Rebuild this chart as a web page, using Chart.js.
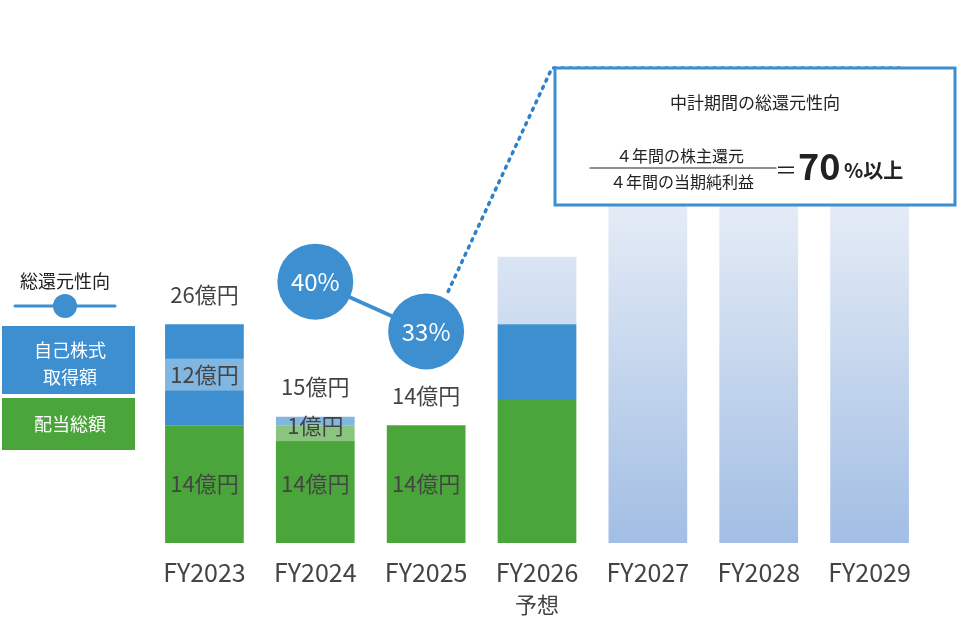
<!DOCTYPE html>
<html><head><meta charset="utf-8">
<script src="https://cdn.jsdelivr.net/npm/chart.js@4"></script>
<style>body{margin:0;background:#fff;overflow:hidden}canvas{display:block}</style>
</head><body><canvas id="c" width="963" height="627" style="width:963px;height:627px"></canvas>
<script>
const years = ["FY2023","FY2024","FY2025","FY2026","FY2027","FY2028","FY2029"];
const subLabels = ["","","","予想","","",""];
const dividend = [14,14,14,17,0,0,0];
const buyback = [12,1,0,9,0,0,0];
const planned = [0,0,0,8,43,43,43];
const ratio = [null,40,33,null,null,null,null];
const ratioText = ["","40%","33%","","","",""];
const totalText = ["26億円","15億円","14億円","","","",""];
const buybackText = ["12億円","1億円","","","","",""];
const dividendText = ["14億円","14億円","14億円","","","",""];

const FONT = "'Noto Sans CJK JP', 'Noto Sans', sans-serif";
const BLUE = "#3d8fd0", GREEN = "#4aa63a";

const grad = (ctx)=>{
  const ch = ctx.chart, a = ch.chartArea;
  if(!a) return "#c5d6ee";
  const g = ch.ctx.createLinearGradient(0, a.top + 150, 0, a.bottom);
  g.addColorStop(0, "#e8eef7");
  g.addColorStop(1, "#a2bee4");
  return g;
};

const drawer = {
  id: "drawer",
  afterDatasetsDraw(chart){
    const c = chart.ctx, x = chart.scales.x, y = chart.scales.y, y2 = chart.scales.y2;
    c.save();
    c.textAlign = "center"; c.textBaseline = "middle";
    c.fillStyle = "#444"; c.font = "25px " + FONT;
    years.forEach((l,i)=>{
      c.fillText(l, x.getPixelForValue(i), 572);
      if(subLabels[i]){ c.font = "22px " + FONT; c.fillText(subLabels[i], x.getPixelForValue(i), 605); c.font = "25px " + FONT; }
    });
    c.font = "22px " + FONT;
    years.forEach((l,i)=>{
      const px = x.getPixelForValue(i);
      const tot = dividend[i] + buyback[i];
      if(totalText[i]){
        const off = buyback[i] > 0 && buyback[i] < 3 ? 30 : 30;
        c.fillStyle = "#444"; c.fillText(totalText[i], px, y.getPixelForValue(tot) - off);
      }
      if(buybackText[i]){
        const py = buyback[i] < 3 ? y.getPixelForValue(dividend[i]) : y.getPixelForValue(dividend[i] + buyback[i]/2);
        c.fillStyle = "rgba(255,255,255,0.35)"; c.fillRect(px - 41, py - 16, 82, 32);
        c.fillStyle = "#444"; c.fillText(buybackText[i], px, py);
      }
      if(dividendText[i]){ c.fillStyle = "#444"; c.fillText(dividendText[i], px, y.getPixelForValue(dividend[i]*0.5)); }
    });
    const p33 = [x.getPixelForValue(2), y2.getPixelForValue(33)];
    c.strokeStyle = "#2f80c8"; c.lineWidth = 3.5; c.setLineDash([2,6]); c.lineCap = "round";
    c.beginPath(); c.moveTo(p33[0] + 22, p33[1] - 40); c.lineTo(552, 68); c.lineTo(900, 68); c.stroke();
    c.setLineDash([]);
    c.fillStyle = "#fff"; c.font = "24px " + FONT;
    ratio.forEach((v,i)=>{ if(v!=null) c.fillText(ratioText[i], x.getPixelForValue(i), y2.getPixelForValue(v)); });
    c.fillStyle = "#fff"; c.fillRect(555, 68, 400, 137);
    c.strokeStyle = BLUE; c.lineWidth = 3; c.strokeRect(555, 68, 400, 137);
    c.fillStyle = "#222"; c.font = "17px " + FONT; c.fillText("中計期間の総還元性向", 755, 103);
    c.font = "16px " + FONT;
    c.fillText("４年間の株主還元", 680, 156);
    c.fillText("４年間の当期純利益", 682, 182);
    c.lineWidth = 1.2; c.strokeStyle = "#222"; c.beginPath(); c.moveTo(590, 168); c.lineTo(776, 168); c.stroke();
    c.font = "22px " + FONT; c.fillText("＝", 786, 170);
    c.textAlign = "left"; c.font = "bold 36px " + FONT; c.fillText("70", 798, 166);
    c.font = "bold 20px " + FONT; c.fillText("%以上", 844, 170);
    c.textAlign = "center"; c.fillStyle = "#222"; c.font = "18px " + FONT;
    c.fillText("総還元性向", 65, 281);
    c.strokeStyle = BLUE; c.lineWidth = 3; c.beginPath(); c.moveTo(15, 306); c.lineTo(115, 306); c.stroke();
    c.fillStyle = BLUE; c.beginPath(); c.arc(65, 306, 12, 0, Math.PI*2); c.fill();
    c.fillRect(2, 326, 133, 68);
    c.fillStyle = GREEN; c.fillRect(2, 398, 133, 52);
    c.fillStyle = "#fff"; c.fillText("自己株式", 70, 350); c.fillText("取得額", 70, 377); c.fillText("配当総額", 70, 424);
    c.restore();
  }
};

new Chart(document.getElementById("c"), {
  data: {
    labels: years,
    datasets: [
      { type: "line", data: ratio, yAxisID: "y2", borderColor: BLUE, borderWidth: 4, pointRadius: 38, pointHoverRadius: 38, pointBackgroundColor: BLUE, pointBorderWidth: 0, order: 0 },
      { type: "bar", data: dividend, backgroundColor: GREEN, stack: "s", order: 1 },
      { type: "bar", data: buyback, backgroundColor: BLUE, stack: "s", order: 1 },
      { type: "bar", data: planned, backgroundColor: grad, stack: "s", order: 1 }
    ]
  },
  options: {
    responsive: false, devicePixelRatio: 1, animation: false,
    datasets: { bar: { barPercentage: 0.71, categoryPercentage: 1 } },
    layout: { padding: { left: 149, right: 6, top: 15, bottom: 84 } },
    plugins: { legend: { display: false }, tooltip: { enabled: false } },
    scales: {
      x: { stacked: true, display: false },
      y: { stacked: true, display: false, min: 0, max: 60 },
      y2: { display: false, min: 3.23, max: 74.3 }
    }
  },
  plugins: [drawer]
});
</script></body></html>
